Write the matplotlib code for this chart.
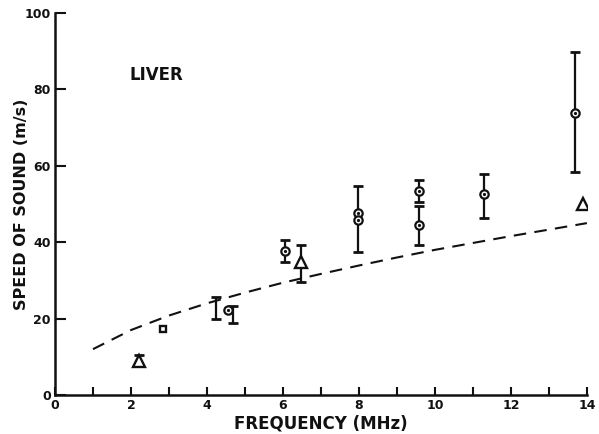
"""Speed of sound vs. frequency in liver, with error bars and a dashed model curve."""
import matplotlib

matplotlib.use("Agg")
import matplotlib.pyplot as plt

INK = "#111111"

# Measured points (open circles)
circle_f = [4.55, 6.05, 7.97, 7.97, 9.58, 9.58, 11.29, 13.68]
circle_v = [22.3, 37.7, 47.7, 45.8, 53.3, 44.5, 52.6, 73.8]

# Triangles and the single square point
tri_f = [2.2, 6.47, 13.9]
tri_v = [9.0, 34.8, 50.0]
sq_f = [2.84]
sq_v = [17.3]

# Error bars: position, low end, high end
bar_f = [2.2, 4.25, 4.68, 6.05, 6.47, 7.97, 9.58, 9.58, 11.29, 13.68]
bar_lo = [7.8, 19.9, 18.8, 34.8, 29.6, 37.4, 50.5, 39.3, 46.3, 58.4]
bar_hi = [10.5, 25.7, 23.3, 40.6, 39.3, 54.7, 56.3, 49.5, 57.9, 89.8]

# Dashed curve
curve_f = [1, 2, 3, 4, 5, 6, 7, 8, 9, 10, 11, 12, 13, 14]
curve_v = [12.0, 17.0, 20.8, 24.0, 26.8, 29.4, 31.7, 33.9, 36.0, 38.0, 39.8, 41.6, 43.3, 45.0]

x_ticks = list(range(0, 15))
x_labels = [str(t) if t % 2 == 0 else "" for t in x_ticks]
y_ticks = [0, 20, 40, 60, 80, 100]

fig = plt.figure(figsize=(5.99, 4.34), dpi=100)
ax = fig.add_axes([0.0918, 0.0899, 0.888, 0.880])

ax.plot(curve_f, curve_v, color=INK, linewidth=1.5, dashes=(6, 4))

mid = [(lo + hi) / 2 for lo, hi in zip(bar_lo, bar_hi)]
half = [(hi - lo) / 2 for lo, hi in zip(bar_lo, bar_hi)]
ax.errorbar(bar_f, mid, yerr=half, fmt="none", ecolor=INK,
            elinewidth=1.6, capsize=3.8, capthick=2)

ax.plot(circle_f, circle_v, linestyle="none", marker="o", markersize=6,
        markerfacecolor="white", markeredgecolor=INK, markeredgewidth=1.6, zorder=5)
ax.plot(circle_f, circle_v, linestyle="none", marker="o", markersize=1.3,
        color=INK, zorder=6)
ax.plot(tri_f, tri_v, linestyle="none", marker="^", markersize=8,
        markerfacecolor="white", markeredgecolor=INK, markeredgewidth=1.7, zorder=5)
ax.plot(sq_f, sq_v, linestyle="none", marker="s", markersize=5,
        markerfacecolor="white", markeredgecolor=INK, markeredgewidth=1.7, zorder=5)

ax.text(1.95, 82.5, "LIVER", fontsize=12, fontweight="bold", color=INK)

ax.set_xlim(0, 14)
ax.set_ylim(0, 100)
ax.set_xticks(x_ticks)
ax.set_xticklabels(x_labels)
ax.set_yticks(y_ticks)

for spine in ("top", "right"):
    ax.spines[spine].set_visible(False)
for spine in ("left", "bottom"):
    ax.spines[spine].set_linewidth(1.8)
    ax.spines[spine].set_color(INK)

ax.tick_params(axis="y", direction="in", length=8, width=1.5, colors=INK,
               labelsize=9, pad=3)
ax.tick_params(axis="x", direction="in", length=6, width=1.5, colors=INK,
               labelsize=9, pad=3)
for lbl in ax.get_xticklabels() + ax.get_yticklabels():
    lbl.set_fontweight("bold")

ax.set_xlabel("FREQUENCY (MHz)", fontsize=12, fontweight="bold", color=INK, labelpad=2)
ax.set_ylabel("SPEED OF SOUND (m/s)", fontsize=11.5, fontweight="bold", color=INK, labelpad=-3)

fig.savefig("out.png", dpi=100, facecolor="white")
